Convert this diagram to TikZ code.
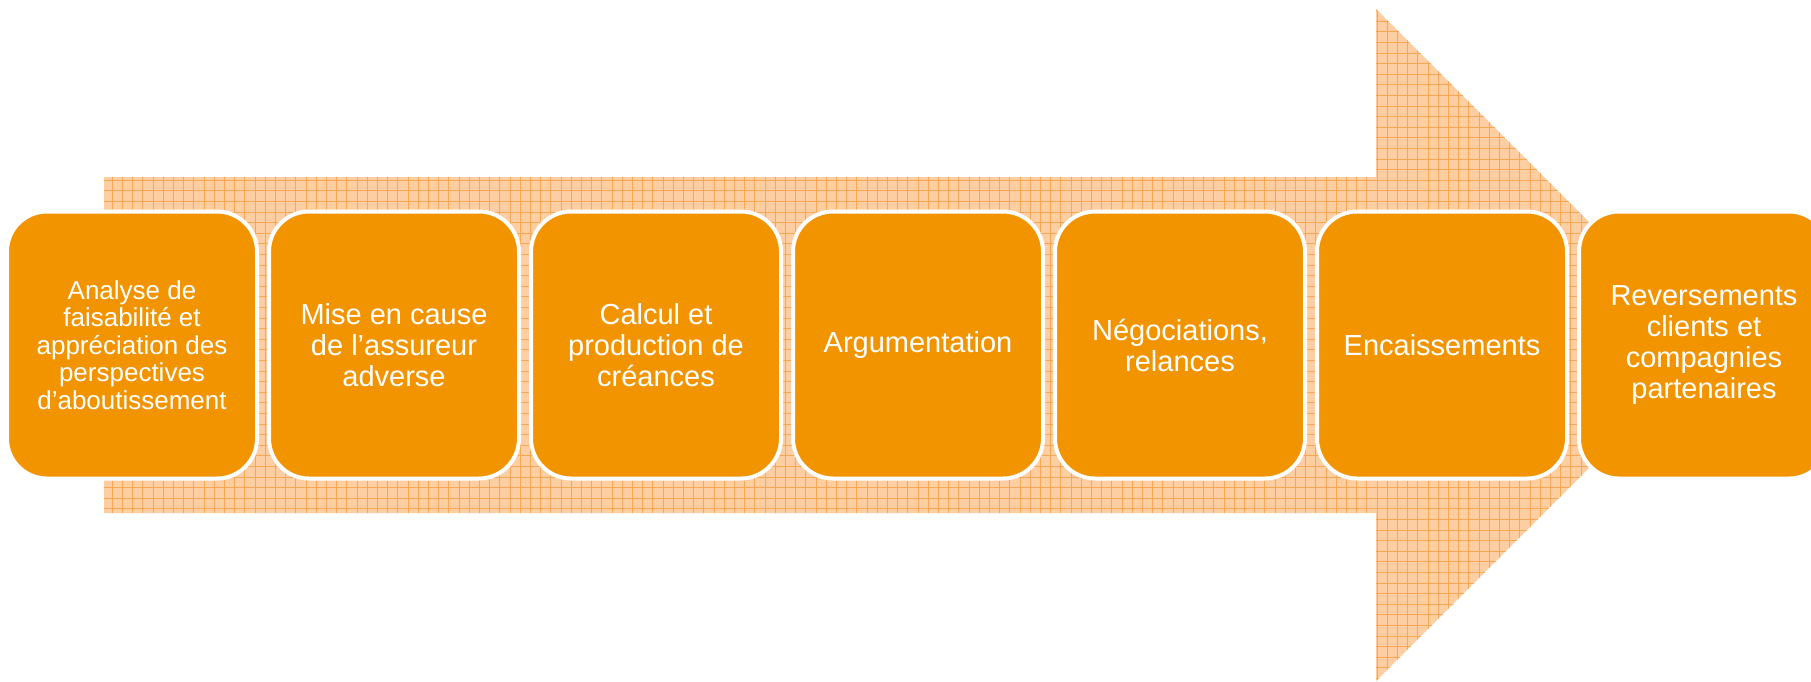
\documentclass[tikz,border=0pt]{standalone}
\usepackage{fontspec}
\setmainfont{Liberation Sans}
\usepackage{tikz}
\usetikzlibrary{positioning}

\definecolor{boxorange}{RGB}{242,148,0}
\definecolor{arrowpeach}{RGB}{253,206,162}
\definecolor{gridpeach}{RGB}{247,166,84}

\tikzset{
  stepbox/.style={draw=white, line width=4pt, fill=boxorange, rounded corners=40pt,
    minimum width=250pt, minimum height=267pt, inner sep=0pt,
    text=white, align=center, font=\fontsize{29}{31}\selectfont},
  smalltext/.style={font=\fontsize{26}{27.4}\selectfont}
}

\begin{document}
\begin{tikzpicture}[x=1pt, y=-1pt]
            \clip (0,0) rectangle (1811,681);

            % big arrow behind the steps
            \fill[arrowpeach] (104,177) -- (1376,177) -- (1376,9) -- (1712,345)
                -- (1376,681) -- (1376,513) -- (104,513) -- cycle;
            \begin{scope}
                \clip (104,177) -- (1376,177) -- (1376,9) -- (1712,345)
                    -- (1376,681) -- (1376,513) -- (104,513) -- cycle;
                \draw[gridpeach, line width=0.9pt, xstep=10.2pt, ystep=10.6pt] (95,0) grid (1720,681);
            \end{scope}

            % the steps
            \node[stepbox, smalltext] (analyse) at (132, 345) {Analyse de\\faisabilité et\\appréciation des\\perspectives\\d’aboutissement};
            \node[stepbox] (cause) at (394, 345) {Mise en cause\\de l’assureur\\adverse};
            \node[stepbox] (calcul) at (656, 345) {Calcul et\\production de\\créances};
            \node[stepbox] (argu) at (918, 345) {Argumentation};
            \node[stepbox] (nego) at (1180, 345) {Négociations,\\relances};
            \node[stepbox] (encais) at (1442, 345) {Encaissements};
            \node[stepbox] (revers) at (1704, 345) {Reversements\\clients et\\compagnies\\partenaires};
        \end{tikzpicture}
\end{document}
